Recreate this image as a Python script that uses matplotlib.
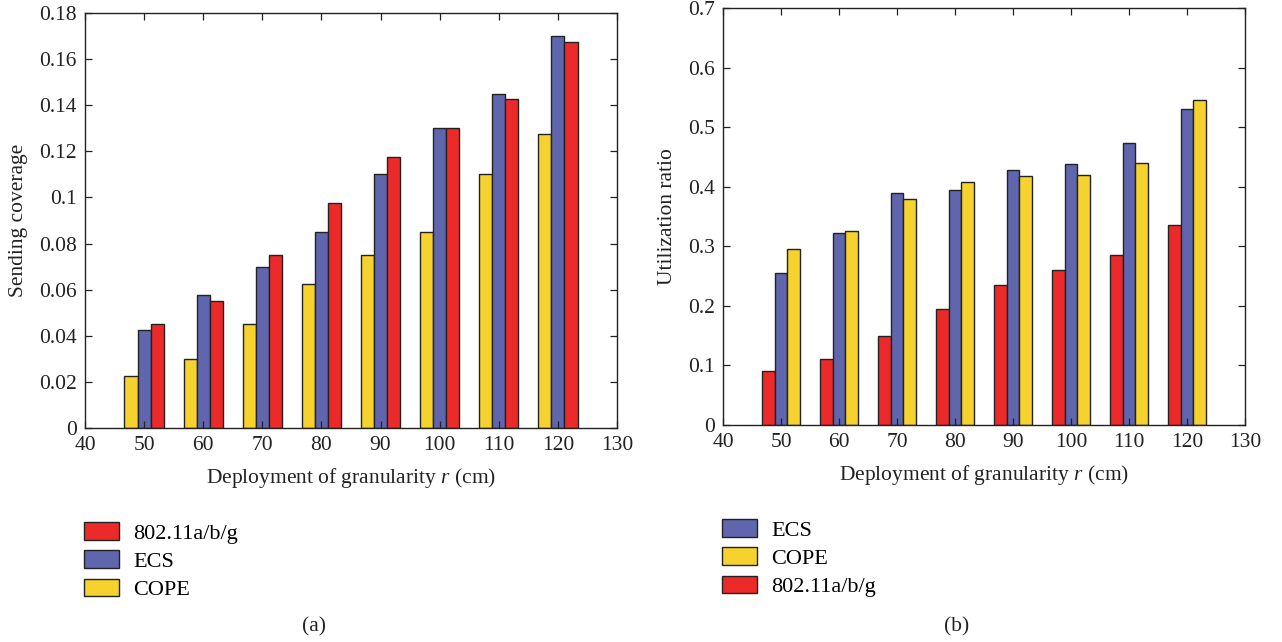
import matplotlib
matplotlib.use("Agg")
import matplotlib.pyplot as plt
import numpy as np

plt.rcParams['font.family'] = ['Liberation Serif', 'DejaVu Serif']
plt.rcParams['mathtext.fontset'] = 'custom'
plt.rcParams['mathtext.rm'] = 'Liberation Serif'
plt.rcParams['mathtext.it'] = 'Liberation Serif:italic'

# Data
granularity = [50, 60, 70, 80, 90, 100, 110, 120]

# (a) Sending coverage
cov_cope = [0.0225, 0.030, 0.045, 0.0625, 0.075, 0.085, 0.110, 0.1275]
cov_ecs = [0.0425, 0.0575, 0.070, 0.085, 0.110, 0.130, 0.145, 0.170]
cov_wifi = [0.045, 0.055, 0.075, 0.0975, 0.1175, 0.130, 0.1425, 0.1675]

# (b) Utilization ratio
util_wifi = [0.090, 0.110, 0.150, 0.195, 0.235, 0.260, 0.285, 0.335]
util_ecs = [0.255, 0.322, 0.390, 0.395, 0.428, 0.438, 0.473, 0.530]
util_cope = [0.295, 0.325, 0.380, 0.408, 0.418, 0.420, 0.440, 0.545]

x_ticks = [40, 50, 60, 70, 80, 90, 100, 110, 120, 130]
cov_ticks = [0, 0.02, 0.04, 0.06, 0.08, 0.1, 0.12, 0.14, 0.16, 0.18]
util_ticks = [0, 0.1, 0.2, 0.3, 0.4, 0.5, 0.6, 0.7]

RED = '#EC2A29'
BLUE = '#5F66AE'
YELLOW = '#F5D22E'
EDGE = '#222222'
TXT = '#222222'

FS = 15.5
LEG_FS = 16
bar_w = 10 * (3 / 4.5) / 3

W, H = 1282, 642
fig = plt.figure(figsize=(W / 100, H / 100), dpi=100)


def axes_px(x0, x1, ytop, ybot):
    return fig.add_axes([x0 / W, 1 - ybot / H, (x1 - x0) / W, (ybot - ytop) / H])


def style(ax, yticks, ylim, ylabel):
    ax.set_xlim(40, 130)
    ax.set_ylim(*ylim)
    ax.set_xticks(x_ticks)
    ax.set_xticklabels([str(t) for t in x_ticks])
    ax.set_yticks(yticks)
    ax.set_yticklabels(['0' if t == 0 else ('%g' % t) for t in yticks])
    ax.tick_params(direction='in', top=True, right=True, length=5, width=0.9,
                   labelsize=FS, colors=TXT, pad=6)
    for s in ax.spines.values():
        s.set_linewidth(1.0)
        s.set_color(TXT)
    ax.set_xlabel('Deployment of granularity $r$ (cm)', fontsize=FS, color=TXT, labelpad=8)
    ax.set_ylabel(ylabel, fontsize=FS, color=TXT, labelpad=8)


def bars(ax, series):
    x = np.array(granularity, dtype=float)
    handles = {}
    for i, (name, vals, col) in enumerate(series):
        h = ax.bar(x + (i - 1) * bar_w, vals, width=bar_w, color=col,
                   edgecolor=EDGE, linewidth=1.0, label=name)
        handles[name] = h
    return handles


def legend(handles, order, x, y):
    fig.legend([handles[k] for k in order], order, loc='upper left',
               bbox_to_anchor=(x / W, 1 - y / H), frameon=False, fontsize=LEG_FS,
               handlelength=1.58, handleheight=0.86, labelspacing=0.3, handletextpad=0.62,
               borderaxespad=0, borderpad=0)


# (a)
ax1 = axes_px(85, 617, 13, 428)
h1 = bars(ax1, [('COPE', cov_cope, YELLOW), ('ECS', cov_ecs, BLUE), ('802.11a/b/g', cov_wifi, RED)])
style(ax1, cov_ticks, (0, 0.18), 'Sending coverage')
legend(h1, ['802.11a/b/g', 'ECS', 'COPE'], 84, 522)

# (b)
ax2 = axes_px(723, 1245, 8, 425)
h2 = bars(ax2, [('802.11a/b/g', util_wifi, RED), ('ECS', util_ecs, BLUE), ('COPE', util_cope, YELLOW)])
style(ax2, util_ticks, (0, 0.7), 'Utilization ratio')
legend(h2, ['ECS', 'COPE', '802.11a/b/g'], 722, 519)

fig.text(314 / W, 1 - 627 / H, '(a)', ha='center', va='center', fontsize=FS, color=TXT)
fig.text(957 / W, 1 - 627 / H, '(b)', ha='center', va='center', fontsize=FS, color=TXT)

fig.savefig('out.png', dpi=100, facecolor='white')
